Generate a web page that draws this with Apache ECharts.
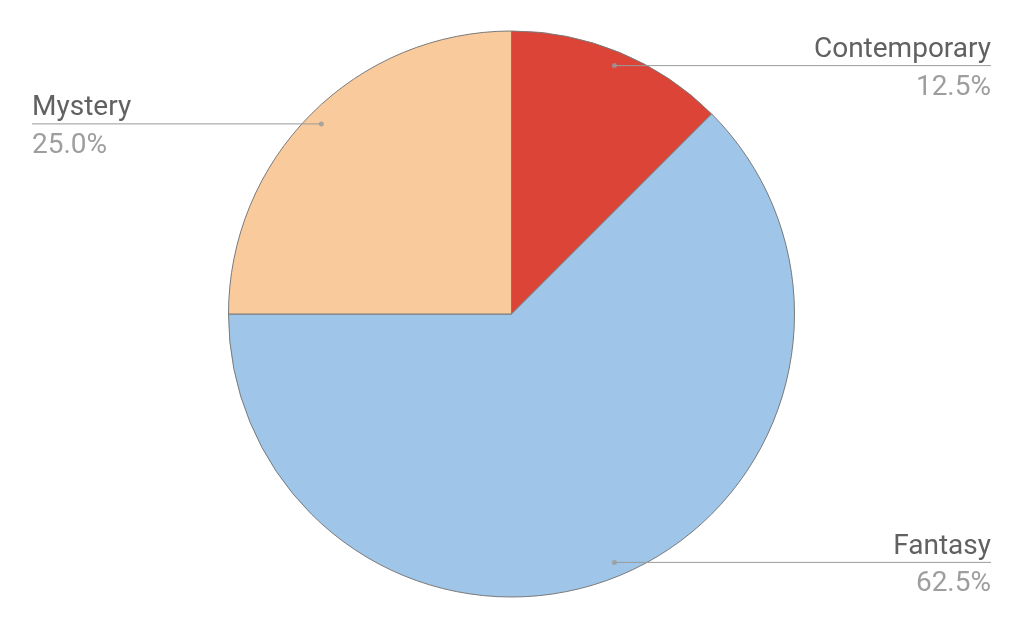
<!DOCTYPE html>
<html>
<head>
<meta charset="utf-8">
<script src="https://cdn.jsdelivr.net/npm/echarts@6/dist/echarts.min.js"></script>
<style>
html,body{margin:0;padding:0;background:#fff;}
#chart{width:1023px;height:629px;}
</style>
</head>
<body>
<div id="chart"></div>
<script>
// Data
const categories = ['Contemporary', 'Fantasy', 'Mystery'];
const values = [12.5, 62.5, 25.0];
const colors = ['#DB4437', '#9FC5E8', '#F9CB9C'];

const total = values.reduce((a, b) => a + b, 0);
const mids = [];
let acc = 0;
values.forEach(v => { mids.push(acc + v / 2); acc += v; });

const CX = 511.5, CY = 314, R = 283;
const LEFT_EDGE = 32, RIGHT_EDGE = 991;

const chart = echarts.init(document.getElementById('chart'), null, {renderer: 'canvas'});

const pieData = categories.map((c, i) => ({ name: c, value: values[i], itemStyle: { color: colors[i] } }));

const option = {
  backgroundColor: '#ffffff',
  animation: false,
  polar: { center: [CX, CY], radius: R },
  angleAxis: { type: 'value', min: 0, max: total, startAngle: 90, clockwise: true, show: false },
  radiusAxis: { type: 'value', min: 0, max: 1, show: false },
  series: [
    {
      type: 'pie',
      center: [CX, CY],
      radius: [0, R],
      startAngle: 90,
      clockwise: true,
      silent: true,
      z: 2,
      data: pieData,
      itemStyle: { borderColor: '#7a7a7a', borderWidth: 1 },
      label: { show: false },
      labelLine: { show: false }
    },
    {
      // label carrier: same data, transparent sectors, labels/leader lines drawn above the pie
      type: 'pie',
      center: [CX, CY],
      radius: [0, R * 0.95],
      startAngle: 90,
      clockwise: true,
      silent: true,
      z: 4,
      data: categories.map((c, i) => ({ name: c, value: values[i] })),
      itemStyle: { color: 'rgba(0,0,0,0)', borderWidth: 0 },
      label: {
        show: true,
        position: 'outside',
        formatter: p => '{n|' + p.name + '}\n{p|' + p.value.toFixed(1) + '%}',
        rich: {
          n: { fontFamily: 'Roboto', fontSize: 28, color: '#616161', lineHeight: 35 },
          p: { fontFamily: 'Roboto', fontSize: 28, color: '#9e9e9e', lineHeight: 40 }
        }
      },
      labelLine: { show: true, showAbove: true, length: 10, length2: 10, lineStyle: { color: '#9a9a9a', width: 1 } },
      labelLayout: function (params) {
        const i = params.dataIndex;
        const ang = (mids[i] / total) * Math.PI * 2;
        const sx = CX + 0.95 * R * Math.sin(ang);
        const sy = CY - 0.95 * R * Math.cos(ang);
        const right = sx >= CX;
        const ex = right ? RIGHT_EDGE : LEFT_EDGE;
        return {
          x: ex,
          y: sy - 33,
          align: right ? 'right' : 'left',
          verticalAlign: 'top',
          labelLinePoints: [[sx, sy], [ex, sy], [ex, sy]]
        };
      }
    },
    {
      type: 'scatter',
      coordinateSystem: 'polar',
      silent: true,
      symbol: 'circle',
      symbolSize: 5,
      itemStyle: { color: '#9a9a9a' },
      data: mids.map(m => [0.95, m]),
      z: 5
    }
  ]
};
chart.setOption(option);
</script>
</body>
</html>
